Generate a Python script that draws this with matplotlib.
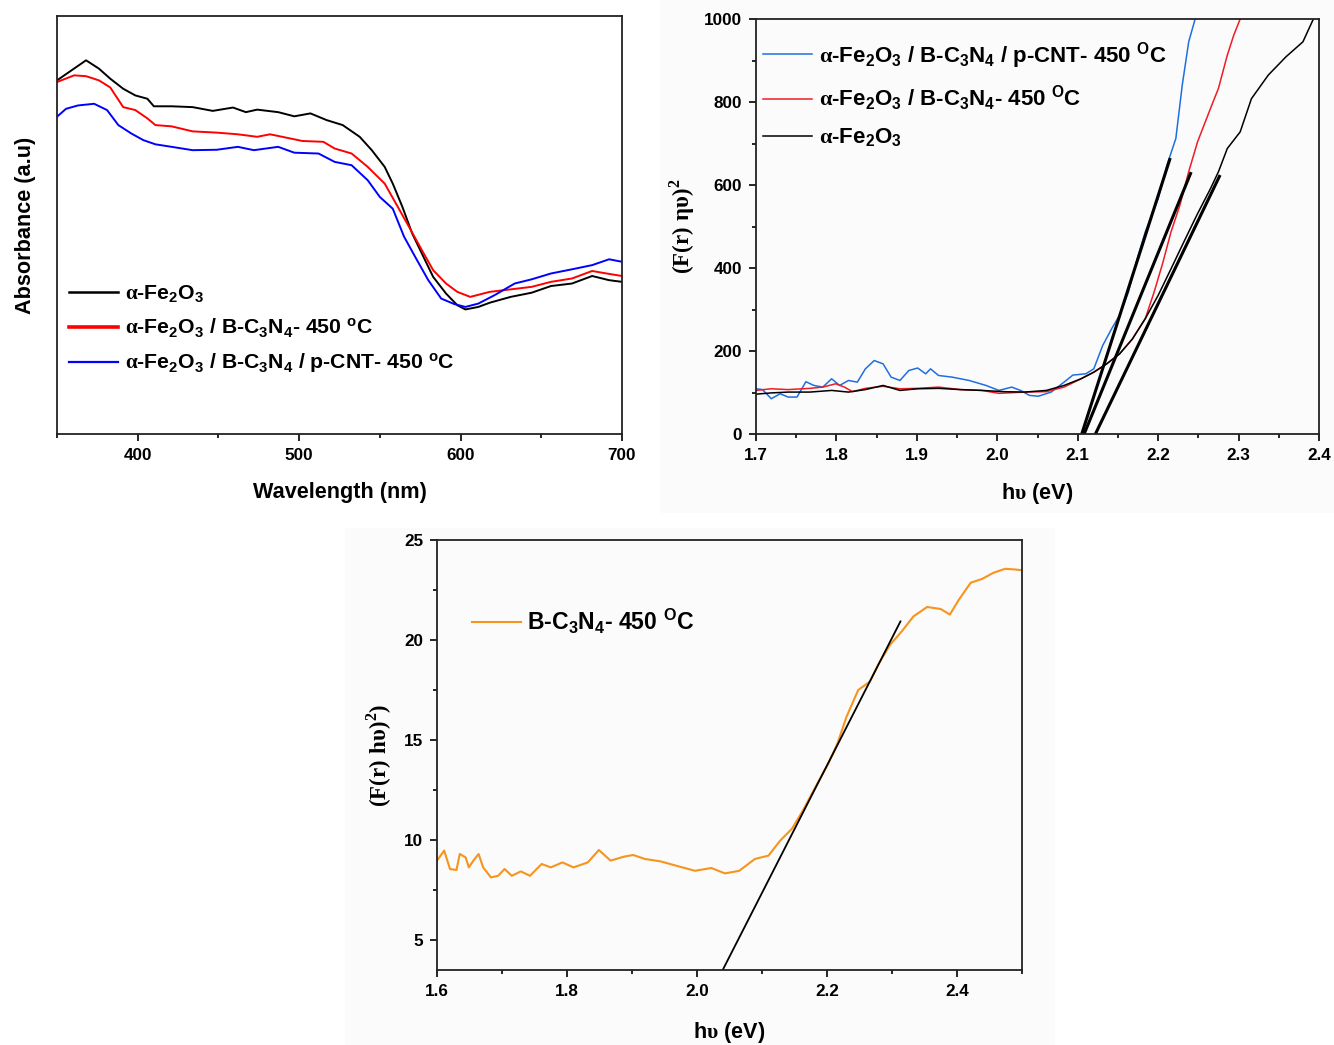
import matplotlib
matplotlib.use("Agg")
import matplotlib.pyplot as plt
from matplotlib.patches import Rectangle
from matplotlib.ticker import MultipleLocator

plt.rcParams['font.family'] = ['Liberation Sans', 'DejaVu Sans']
plt.rcParams['font.weight'] = 'bold'
plt.rcParams['mathtext.fontset'] = 'custom'
plt.rcParams['mathtext.rm'] = 'Liberation Sans:bold'
plt.rcParams['mathtext.it'] = 'Liberation Sans:bold'
plt.rcParams['mathtext.bf'] = 'Liberation Serif:bold'
plt.rcParams['mathtext.sf'] = 'Liberation Serif'

# ---------------- Panel (a): UV-vis absorbance ----------------
wl_fe2o3 = [350, 359, 368, 376, 383, 391, 398.5, 406, 410, 421, 434, 446.5, 459, 467, 474, 487, 497, 507,
            517, 527, 537.5, 545, 553, 558, 564, 570, 577, 583, 591, 598, 603, 611, 618, 631, 644, 656,
            669, 681.5, 692, 700]
abs_fe2o3 = [0.846, 0.870, 0.894, 0.874, 0.850, 0.826, 0.810, 0.802, 0.784, 0.784, 0.782, 0.773, 0.781,
             0.770, 0.776, 0.770, 0.760, 0.767, 0.751, 0.739, 0.711, 0.679, 0.639, 0.599, 0.543, 0.480,
             0.424, 0.376, 0.336, 0.308, 0.298, 0.304, 0.314, 0.328, 0.338, 0.354, 0.360, 0.378, 0.368, 0.364]

wl_bcn = [350, 360.6, 368, 376, 383, 391, 398.5, 406, 411, 421, 434, 449, 462, 474, 482, 492, 502, 515,
          522, 532.5, 542.5, 553, 560, 568, 576, 583, 591, 598, 606, 618, 631, 644, 656, 669, 681.5, 692, 700]
abs_bcn = [0.842, 0.858, 0.856, 0.846, 0.829, 0.782, 0.775, 0.755, 0.739, 0.736, 0.724, 0.721, 0.717,
           0.711, 0.717, 0.709, 0.701, 0.699, 0.683, 0.671, 0.639, 0.599, 0.551, 0.496, 0.440, 0.392,
           0.360, 0.340, 0.328, 0.340, 0.346, 0.352, 0.364, 0.372, 0.390, 0.383, 0.378]

wl_cnt = [350, 355.6, 363, 373, 381, 388, 396, 403.5, 411, 421, 434, 449, 462, 472, 487, 497, 512, 522,
          532.5, 542.5, 550, 558, 565, 573, 580, 588, 596, 603, 611, 621, 633.5, 644, 656, 669, 681.5, 692, 700]
abs_cnt = [0.759, 0.778, 0.786, 0.790, 0.775, 0.739, 0.719, 0.703, 0.693, 0.687, 0.679, 0.680, 0.687,
           0.679, 0.687, 0.673, 0.671, 0.651, 0.643, 0.607, 0.567, 0.539, 0.472, 0.416, 0.368, 0.324,
           0.311, 0.304, 0.312, 0.332, 0.360, 0.370, 0.384, 0.394, 0.404, 0.418, 0.412]

# ---------------- Panel (b): Tauc plot of composites ----------------
ev_fe2o3 = [1.700, 1.719, 1.740, 1.767, 1.794, 1.815, 1.836, 1.858, 1.879, 1.901, 1.927, 1.954, 1.981,
            2.008, 2.034, 2.061, 2.083, 2.104, 2.120, 2.136, 2.152, 2.168, 2.184, 2.200, 2.216, 2.232,
            2.248, 2.265, 2.275, 2.286, 2.302, 2.316, 2.337, 2.359, 2.380, 2.393]
tauc_fe2o3 = [96, 99, 101, 101, 105, 101, 107, 117, 105, 109, 110, 107, 105, 102, 101, 105, 117, 133,
              149, 169, 193, 229, 278, 334, 398, 463, 527, 591, 632, 688, 728, 808, 865, 909, 945, 1000]

ev_bcn = [1.700, 1.719, 1.740, 1.767, 1.783, 1.799, 1.810, 1.820, 1.836, 1.858, 1.879, 1.901, 1.927,
          1.954, 1.981, 2.002, 2.034, 2.061, 2.083, 2.104, 2.120, 2.136, 2.152, 2.168, 2.184, 2.195,
          2.206, 2.216, 2.227, 2.238, 2.249, 2.265, 2.275, 2.286, 2.294, 2.302]
tauc_bcn = [105, 109, 107, 110, 113, 121, 113, 102, 110, 115, 109, 110, 113, 107, 105, 98, 101, 102,
            113, 133, 149, 169, 193, 229, 278, 342, 414, 487, 551, 632, 704, 784, 833, 913, 961, 1000]

ev_cnt = [1.700, 1.708, 1.719, 1.730, 1.740, 1.751, 1.762, 1.772, 1.783, 1.794, 1.804, 1.815, 1.826,
          1.836, 1.847, 1.858, 1.868, 1.879, 1.890, 1.901, 1.911, 1.917, 1.927, 1.944, 1.965, 1.986,
          2.002, 2.018, 2.029, 2.040, 2.051, 2.067, 2.083, 2.094, 2.110, 2.120, 2.131, 2.142, 2.152,
          2.163, 2.174, 2.184, 2.200, 2.211, 2.222, 2.230, 2.238, 2.246]
tauc_cnt = [109, 107, 85, 97, 89, 89, 126, 117, 113, 133, 117, 129, 125, 157, 177, 169, 137, 129, 153,
            159, 145, 157, 141, 137, 129, 117, 105, 113, 105, 93, 91, 101, 125, 142, 145, 157, 213, 253,
            286, 342, 422, 487, 567, 648, 712, 841, 945, 1000]

# linear fits (band-gap extrapolations): x-intercept, end point
fit_x0 = [2.105, 2.108, 2.122]
fit_x1 = [2.215, 2.241, 2.277]
fit_y1 = [665, 631, 624]

# ---------------- Panel (c): Tauc plot of B-C3N4 ----------------
ev_c = [1.600, 1.611, 1.620, 1.630, 1.635, 1.644, 1.649, 1.656, 1.664, 1.671, 1.683, 1.694, 1.704,
        1.715, 1.729, 1.743, 1.761, 1.775, 1.793, 1.810, 1.832, 1.849, 1.867, 1.888, 1.902, 1.920,
        1.944, 1.973, 1.997, 2.022, 2.043, 2.065, 2.089, 2.110, 2.128, 2.146, 2.163, 2.185, 2.202,
        2.216, 2.230, 2.248, 2.266, 2.280, 2.297, 2.315, 2.333, 2.354, 2.375, 2.389, 2.403, 2.421,
        2.439, 2.456, 2.474, 2.488, 2.500]
tauc_c = [8.97, 9.47, 8.55, 8.50, 9.30, 9.13, 8.63, 8.97, 9.30, 8.63, 8.13, 8.21, 8.55, 8.21, 8.43,
          8.21, 8.80, 8.63, 8.88, 8.63, 8.88, 9.50, 8.97, 9.17, 9.25, 9.05, 8.93, 8.67, 8.46, 8.60,
          8.33, 8.46, 9.05, 9.22, 9.97, 10.56, 11.48, 12.82, 13.82, 14.82, 16.16, 17.50, 17.92, 18.84,
          19.76, 20.43, 21.18, 21.65, 21.55, 21.27, 22.02, 22.86, 23.06, 23.36, 23.56, 23.53, 23.49]
fit_c_x = [2.040, 2.313]
fit_c_y = [3.53, 20.93]

W, H = 1334, 1045
fig = plt.figure(figsize=(W / 100, H / 100), dpi=100)
fig.patch.set_facecolor('white')

# faint grey backgrounds of panels (b) and (c)
fig.patches.append(Rectangle((660 / W, 1 - 513 / H), 674 / W, 513 / H, transform=fig.transFigure,
                             facecolor='#fbfbfb', edgecolor='none', zorder=-10))
fig.patches.append(Rectangle((345 / W, 0), 710 / W, 1 - 528 / H, transform=fig.transFigure,
                             facecolor='#fbfbfb', edgecolor='none', zorder=-10))


def make_ax(px0, py0, px1, py1):
    ax = fig.add_axes([px0 / W, 1 - py1 / H, (px1 - px0) / W, (py1 - py0) / H])
    ax.set_facecolor('none')
    for s in ax.spines.values():
        s.set_linewidth(1.3)
        s.set_color('#222222')
    ax.tick_params(which='both', direction='out', top=False, right=False, width=1.2,
                   labelsize=12, pad=5)
    ax.tick_params(which='major', length=5)
    ax.tick_params(which='minor', length=3)
    return ax


tick_kw = dict(fontweight='bold', fontsize=12.3)
lab_kw = dict(fontweight='bold', fontsize=15.6)

# ---- (a)
axa = make_ax(57, 16, 622, 434)
axa.plot(wl_fe2o3, abs_fe2o3, color='black', lw=1.4, label=r'$\mathsf{\alpha}$-Fe$_2$O$_3$')
axa.plot(wl_bcn, abs_bcn, color='#ff0000', lw=1.4, label=r'$\mathsf{\alpha}$-Fe$_2$O$_3$ / B-C$_3$N$_4$- 450 $^{o}$C')
axa.plot(wl_cnt, abs_cnt, color='#0000ff', lw=1.4, label=r'$\mathsf{\alpha}$-Fe$_2$O$_3$ / B-C$_3$N$_4$ / p-CNT- 450 $^{o}$C')
axa.set_xlim(350, 700)
axa.set_ylim(0, 1)
axa.xaxis.set_minor_locator(MultipleLocator(50))
axa.set_yticks([])
axa.set_xticks([400, 500, 600, 700])
axa.set_xticklabels(['400', '500', '600', '700'], **tick_kw)
axa.set_xlabel('Wavelength (nm)', labelpad=14, **lab_kw)
axa.set_ylabel('Absorbance (a.u)', labelpad=15, **lab_kw)
leg = axa.legend(loc='upper left', bbox_to_anchor=(0.022, 0.36), frameon=False, fontsize=15.3,
                 handlelength=2.3, handletextpad=0.3, labelspacing=0.55, borderpad=0, borderaxespad=0)
for h, lw in zip(leg.get_lines(), [1.8, 2.6, 1.6]):
    h.set_linewidth(lw)

# ---- (b)
axb = make_ax(756, 19, 1319, 434)
axb.plot(ev_cnt, tauc_cnt, color='#1f6fe0', lw=1.1,
         label=r'$\mathsf{\alpha}$-Fe$_2$O$_3$ / B-C$_3$N$_4$ / p-CNT- 450 $^{O}$C')
axb.plot(ev_bcn, tauc_bcn, color='#ee1c25', lw=1.1,
         label=r'$\mathsf{\alpha}$-Fe$_2$O$_3$ / B-C$_3$N$_4$- 450 $^{O}$C')
axb.plot(ev_fe2o3, tauc_fe2o3, color='black', lw=1.1, label=r'$\mathsf{\alpha}$-Fe$_2$O$_3$')
for x0, x1, y1 in zip(fit_x0, fit_x1, fit_y1):
    axb.plot([x0, x1], [0, y1], color='black', lw=2.2, solid_capstyle='butt')
axb.set_xlim(1.7, 2.4)
axb.set_ylim(0, 1000)
axb.xaxis.set_minor_locator(MultipleLocator(0.05))
axb.yaxis.set_minor_locator(MultipleLocator(100))
axb.set_xticks([1.7, 1.8, 1.9, 2.0, 2.1, 2.2, 2.3, 2.4])
axb.set_xticklabels(['1.7', '1.8', '1.9', '2.0', '2.1', '2.2', '2.3', '2.4'], **tick_kw)
axb.set_yticks([0, 200, 400, 600, 800, 1000])
axb.set_yticklabels(['0', '200', '400', '600', '800', '1000'], **tick_kw)
axb.set_xlabel(r'h$\mathsf{\upsilon}$ (eV)', labelpad=13, **lab_kw)
axb.set_ylabel(r'$\mathbf{(F(r)}\ \mathsf{\eta\upsilon)}^{\mathsf{2}}$', labelpad=5, fontsize=16.5)
legb = axb.legend(handles=axb.get_lines()[:3], loc='upper left', bbox_to_anchor=(0.013, 0.95),
                  frameon=False, fontsize=16, handlelength=2.2, handletextpad=0.3, labelspacing=0.6,
                  borderpad=0, borderaxespad=0)

# ---- (c)
axc = make_ax(437, 540, 1022, 970)
axc.plot(ev_c, tauc_c, color='#f7941d', lw=1.5, label=r'B-C$_3$N$_4$- 450 $^{O}$C')
axc.plot(fit_c_x, fit_c_y, color='black', lw=1.3)
axc.set_xlim(1.6, 2.5)
axc.set_ylim(3.5, 25)
axc.xaxis.set_minor_locator(MultipleLocator(0.1))
axc.yaxis.set_minor_locator(MultipleLocator(2.5))
axc.set_xticks([1.6, 1.8, 2.0, 2.2, 2.4])
axc.set_xticklabels(['1.6', '1.8', '2.0', '2.2', '2.4'], **tick_kw)
axc.set_yticks([5, 10, 15, 20, 25])
axc.set_yticklabels(['5', '10', '15', '20', '25'], **tick_kw)
axc.set_xlabel(r'h$\mathsf{\upsilon}$ (eV)', labelpad=15, **lab_kw)
axc.set_ylabel(r'$\mathbf{(F(r)}\ \mathsf{h\upsilon)}^{\mathsf{2}}\mathbf{)}$', labelpad=7, fontsize=16.5)
axc.legend(handles=axc.get_lines()[:1], loc='upper left', bbox_to_anchor=(0.06, 0.845), frameon=False,
           fontsize=16.6, handlelength=2.1, handletextpad=0.3, borderpad=0, borderaxespad=0)

fig.savefig('out.png', dpi=100)
